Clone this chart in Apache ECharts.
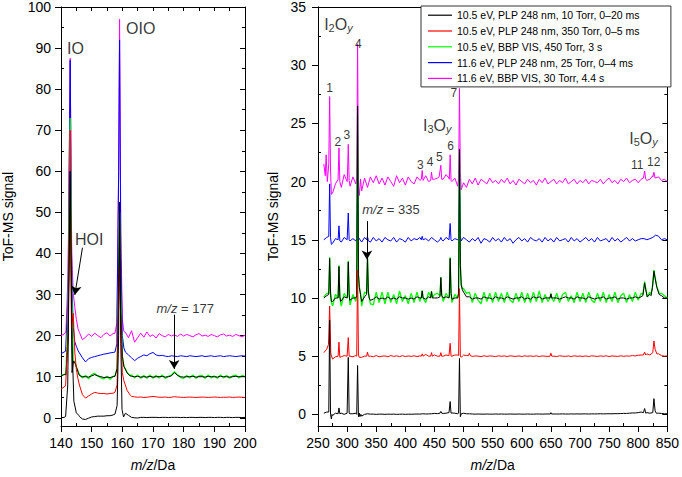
<!DOCTYPE html>
<html><head><meta charset="utf-8">
<script src="https://cdn.jsdelivr.net/npm/echarts@6/dist/echarts.min.js"></script>
<style>html,body{margin:0;padding:0;background:#fff}#c{width:682px;height:477px}</style>
</head><body><div id="c"></div><script>
const FONT = '"Liberation Sans", Arial, Helvetica, sans-serif';
const names = ['10.5 eV, PLP 248 nm, 10 Torr, 0–20 ms', '10.5 eV, PLP 248 nm, 350 Torr, 0–5 ms', '10.5 eV, BBP VIS, 450 Torr, 3 s', '11.6 eV, PLP 248 nm, 25 Torr, 0–4 ms', '11.6 eV, BBP VIS, 30 Torr, 4.4 s'];
const colors = ['#000000', '#ff0000', '#00ff00', '#0000ff', '#ff00ff'];

// tick values
const leftXTicks = [140, 150, 160, 170, 180, 190, 200];
const leftXMinor = [145, 155, 165, 175, 185, 195];
const leftXAll = [140, 145, 150, 155, 160, 165, 170, 175, 180, 185, 190, 195, 200];
const leftYTicks = [0, 10, 20, 30, 40, 50, 60, 70, 80, 90, 100];
const leftYMinor = [5, 15, 25, 35, 45, 55, 65, 75, 85, 95];
const rightXTicks = [250, 300, 350, 400, 450, 500, 550, 600, 650, 700, 750, 800, 850];
const rightXMinor = [275, 325, 375, 425, 475, 525, 575, 625, 675, 725, 775, 825];
const rightYTicks = [0, 5, 10, 15, 20, 25, 30, 35];
const rightYMinor = [2.5, 7.5, 12.5, 17.5, 22.5, 27.5, 32.5];

// ---------- left panel: m/z 140..200, step 1 ----------
const L_x0 = 140, L_step = 1;
const lBlack = [0.0, 0.1, null, null, null, null, 0.3, -0.3, -0.4, -0.1,
  0.2, 0.3, 0.4, 0.4, 0.4, 0.5, 0.5, 0.7, null, null,
  null, 1.1, 0.6, 0.1, 0.0, -0.05, 0.1, 0.1, 0.05, 0.1,
  0.1, 0.1, 0.05, 0.1, 0.1, 0.05, 0.1, 0.1, 0.1, 0.05,
  0.1, 0.05, 0.1, 0.1, 0.05, 0.1, 0.1, 0.05, 0.1, 0.1,
  0.05, 0.1, 0.1, 0.05, 0.1, 0.1, 0.05, 0.1, 0.1, 0.05, 0.1];
const lBlackPeaks = [
  [[141.5, 0.3], [142.2, 8], [143, 60], [143.6, 18], [144.2, 4], [145, 1.2], [145.8, 0.6]],
  [[157.6, 0.9], [158.3, 3], [158.8, 20], [159.1, 52.5], [159.5, 18], [159.9, 2], [160.4, 0.2]]];
const lRed = [7.0, 7.5, null, null, null, null, 8.0, 5.6, 4.8, 5.3,
  5.8, 6.2, 6.0, 5.9, 5.9, 5.8, 5.9, 6.0, null, null,
  null, null, null, 5.2, 5.1, 5.0, 5.05, 4.95, 5.0, 5.1,
  5.2, 5.1, 5.0, 5.0, 5.05, 4.95, 5.0, 5.15, 5.05, 5.0,
  4.95, 5.0, 5.05, 5.0, 4.95, 5.0, 5.05, 5.0, 4.95, 5.0,
  5.05, 5.0, 4.95, 5.0, 5.0, 5.05, 4.95, 5.0, 5.05, 5.0, 4.95];
const lRedPeaks = [
  [[141.5, 7.8], [142.3, 20], [143, 70], [143.4, 22], [144, 25.4], [144.5, 16], [145, 11.8], [145.5, 9.6]],
  [[157.6, 6.2], [158.3, 8], [158.8, 28], [159.1, 37], [159.5, 22], [160, 11], [160.5, 9], [161.6, 6.6], [162.7, 5.4]]];
const lGreen = [10.3, 10.6, null, null, null, null, 10.5, 9.7, 10.3, 9.5,
  10.5, 10.8, 10.2, 9.7, 9.5, 10.1, 9.4, 10.1, null, null,
  null, null, null, 10.4, 9.7, 10.4, 9.6, 10.3, 9.6, 10.4,
  9.6, 10.3, 9.7, 10.4, 9.6, 10.1, 10.4, 11.2, 10.5, 9.8,
  9.6, 10.3, 9.7, 10.4, 9.6, 10.2, 10.3, 9.6, 10.4, 9.7,
  10.2, 9.6, 10.4, 9.7, 10.3, 9.6, 10.2, 10.4, 9.7, 10.3, 10.0];
const lGreenPeaks = [
  [[141.6, 10.6], [142.3, 25], [143, 73], [143.5, 30], [144, 14], [144.5, 13.6], [145, 12.5], [145.6, 11.2]],
  [[157.6, 10.2], [158.3, 12], [158.8, 35], [159.1, 50], [159.5, 28], [160, 15], [160.5, 12.6], [161.6, 11], [162.5, 10.3]]];
const lOverlay = [10.2, 10.5, null, null, null, null, 10.3, 10.0, 10.0, 9.9,
  10.2, 10.5, 10.2, 10.0, 9.8, 9.9, 9.8, 10.0, null, null,
  null, null, null, 10.1, 10.0, 10.1, 9.9, 10.0, 9.9, 10.1,
  9.9, 10.0, 10.0, 10.1, 9.9, 10.0, 10.2, 11.0, 10.3, 10.0,
  9.9, 10.0, 10.0, 10.1, 9.9, 10.0, 10.0, 9.9, 10.1, 10.0,
  10.0, 9.9, 10.1, 10.0, 10.0, 9.9, 10.0, 10.1, 10.0, 10.0, 10.0];
const lOverlayPeaks = [
  [[141.6, 10.5], [142.3, 20], [143, 60], [143.6, 11], [144.1, 13.8], [144.6, 13.3], [145, 12.4], [145.6, 11.1]],
  [[157.6, 10.1], [158.3, 12], [158.8, 33], [159.1, 48], [159.5, 26], [160, 15], [160.5, 12.5], [161.6, 10.9], [162.5, 10.2]]];
const lBlue = [15.6, 16.0, null, null, null, null, 15.8, 14.6, 13.6, 14.4,
  14.7, 14.9, 15.1, 15.3, 15.5, 15.6, 15.8, 15.9, null, null,
  null, 16.0, 15.3, 14.6, 13.9, 14.5, 14.9, 15.3, 15.1, 15.6,
  15.9, 15.3, 15.1, 15.2, 15.0, 14.9, 15.1, 15.0, 14.9, 15.1,
  15.0, 14.9, 15.1, 15.0, 14.9, 15.0, 15.1, 14.9, 15.0, 15.1,
  14.9, 15.0, 15.1, 14.9, 15.0, 15.1, 15.0, 14.9, 15.0, 15.1, 15.0];
const lBluePeaks = [
  [[141.5, 16.2], [142.3, 30], [143, 87], [143.5, 35], [144, 22], [144.5, 18.5], [145, 17.4], [145.6, 16.3]],
  [[157.6, 16], [158.2, 18], [158.8, 60], [159.1, 92], [159.5, 40], [160, 20], [160.5, 17]]];
const lMagenta = [20.0, 20.4, null, null, null, null, 20.8, 19.0, 19.6, 20.4,
  19.8, 20.6, 20.0, 19.5, 20.3, 20.7, 19.9, 20.5, null, null,
  null, 20.8, 19.5, 21.2, 18.4, 19.5, 20.6, 19.6, 20.9, 19.8,
  20.2, 19.4, 20.5, 20.0, 19.7, 20.3, 19.9, 20.2, 19.8, 20.4,
  19.9, 20.3, 20.0, 19.7, 20.2, 20.5, 19.9, 20.1, 19.8, 20.3,
  20.0, 19.7, 20.2, 20.4, 19.9, 20.1, 19.8, 20.3, 20.0, 19.7, 20.1];
const lMagentaPeaks = [
  [[141.6, 20.8], [142.3, 35], [143, 87.5], [143.5, 40], [144, 30.2], [144.5, 27], [145, 24], [145.6, 21.5]],
  [[157.6, 20.6], [158.2, 23], [158.8, 60], [159.1, 97], [159.5, 45], [160, 24], [160.5, 21]]];

// ---------- right panel: m/z 260..850, step 5 ----------
const R_x0 = 260, R_step = 5;
const rBlack = [0.10, 0.20, 0.10, -0.10, 0.10, 0.10, 0.10, 0.00, 0.10, 0.05,
  0.05, 0.10, 0.10, -0.15, 0.00, 0.05, 0.02, 0.02, 0.00, 0.02,
  0.02, 0.00, 0.02, 0.01, 0.02, 0.00, 0.01, 0.02, 0.00, 0.02,
  0.01, 0.02, 0.03, 0.02, 0.05, 0.03, 0.04, 0.05, 0.08, 0.06,
  0.10, 0.08, 0.10, 0.15, 0.12, 0.10, 0.05, 0.00, 0.10, 0.05,
  0.05, 0.03, 0.02, 0.03, 0.02, 0.02, 0.03, 0.02, 0.02, 0.03,
  0.02, 0.03, 0.02, 0.02, 0.03, 0.02, 0.02, 0.03, 0.02, 0.02,
  0.03, 0.02, 0.02, 0.03, 0.03, 0.02, 0.03, 0.03, 0.08, 0.03,
  0.03, 0.03, 0.04, 0.03, 0.03, 0.04, 0.03, 0.04, 0.03, 0.04,
  0.04, 0.03, 0.04, 0.04, 0.04, 0.05, 0.04, 0.05, 0.05, 0.05,
  0.06, 0.06, 0.07, 0.08, 0.08, 0.10, 0.12, 0.12, 0.15, 0.20,
  0.25, 0.15, 0.10, 0.15, 0.25, 0.10, 0.08, 0.05, 0.05];
const rBlackPeaks = [
  [[268.5, 0.2], [270, 8.1], [271.5, 0.0], [273, -0.4], [274, 0.0]],
  [[284.5, 0.05], [286, 0.55], [287.5, 0.05]],
  [[300.5, 0.1], [302, 4.9], [303.5, 0.1]],
  [[316.5, 0.0], [318, 4.2], [319.5, -0.2], [321, 0.1], [322, -0.2], [323.5, 0]],
  [[459.5, 0.1], [461, 0.25], [462.5, 0.1]],
  [[475.5, 0.1], [477, 1.1], [478.5, 0.1]],
  [[491.5, 0.1], [493, 4.8], [494.5, -0.2], [496, 0.05]],
  [[649, 0.03], [650, 0.15], [651, 0.03]],
  [[809, 0.15], [811, 0.5], [813, 0.1]],
  [[825, 0.2], [827, 1.35], [829, 0.3], [831, 0.1]]];
const rRed = [5.30, 5.60, 5.9, 4.75, 4.95, 5.0, 4.95, 5.05, 5.0, 5.0,
  4.95, 5.05, 5.0, 4.9, 5.0, 5.1, 5.0, 4.95, 5.05, 4.95,
  5.0, 5.02, 4.95, 5.05, 4.98, 5.03, 4.96, 5.04, 4.97, 5.02,
  4.98, 5.03, 4.97, 5.02, 5.05, 5.15, 5.0, 5.05, 5.1, 5.0,
  5.05, 5.0, 5.1, 5.05, 5.0, 5.1, 5.1, 4.9, 5.1, 5.05,
  5.05, 4.98, 5.02, 5.0, 4.97, 5.03, 4.98, 5.02, 5.0, 4.97,
  5.03, 4.99, 5.02, 4.97, 5.03, 5.0, 4.98, 5.02, 4.97, 5.03,
  4.99, 5.02, 4.98, 5.03, 4.97, 5.02, 5.0, 4.98, 5.03, 5.0,
  4.97, 5.03, 5.0, 4.98, 5.02, 4.97, 5.03, 4.99, 5.01, 4.98,
  5.02, 4.97, 5.03, 5.0, 4.98, 5.02, 4.99, 5.03, 4.97, 5.02,
  5.0, 4.98, 5.03, 4.99, 5.02, 5.0, 5.05, 5.02, 5.08, 5.1,
  5.15, 5.2, 5.1, 5.3, 5.5, 5.2, 5.05, 5.0, 5.02];
const rRedPeaks = [
  [[268, 6.0], [270, 9.3], [272, 5.2]],
  [[284.5, 5.0], [286, 6.2], [287.5, 4.9]],
  [[300.5, 5.0], [302, 6.6], [303.5, 5.0]],
  [[316.5, 5.0], [318, 12.4], [319.5, 5.1], [321, 4.9]],
  [[333.5, 5.0], [335, 5.35], [336.5, 5.0]],
  [[427.5, 5.0], [429, 5.2], [430.5, 5.0]],
  [[443.5, 5.0], [445, 5.3], [446.5, 5.0]],
  [[459.5, 5.0], [461, 5.3], [462.5, 5.0]],
  [[475.5, 5.0], [477, 6.1], [478.5, 5.0]],
  [[491.5, 5.05], [493, 10.8], [494.5, 5.0], [496, 4.9], [498, 5.0]],
  [[508.5, 5.05], [510, 5.25], [511.5, 5.05]],
  [[648.5, 5.0], [650, 5.25], [651.5, 5.0]],
  [[809, 5.1], [811, 5.35], [813, 5.1]],
  [[825, 5.3], [827, 6.3], [829, 5.6], [832, 5.2]]];
const rGreen = [10.1, 10.4, 12.0, 9.3, 10.3, 10.0, 9.3, 10.4, 10.0, 9.4,
  10.3, 9.7, 10.5, 9.3, 10.5, 10.4, 9.5, 9.4, 10.5, 9.6,
  10.5, 9.5, 10.5, 9.6, 10.3, 9.5, 10.6, 9.7, 10.2, 9.5,
  10.4, 9.6, 10.5, 9.7, 10.4, 9.6, 10.5, 9.7, 10.3, 10.4,
  10.5, 9.7, 10.4, 10.0, 9.6, 10.3, 10.0, 11.1, 10.8, 10.4,
  10.5, 9.6, 10.4, 9.8, 9.5, 10.5, 9.7, 10.4, 9.6, 10.5,
  9.7, 10.4, 9.6, 10.5, 9.8, 9.6, 10.4, 9.7, 10.5, 9.6,
  10.4, 9.6, 10.5, 9.7, 10.6, 9.6, 10.3, 9.7, 10.5, 9.7,
  10.4, 9.6, 10.3, 10.5, 9.7, 10.2, 9.6, 10.5, 9.7, 10.4,
  9.6, 10.5, 9.8, 9.6, 10.4, 9.7, 10.5, 9.6, 10.3, 9.7,
  10.5, 9.6, 10.2, 10.4, 9.6, 10.3, 9.7, 10.5, 9.8, 10.4,
  10.6, 10.3, 10.5, 11.2, 11.6, 10.9, 10.4, 10.2, 10.0];
const rGreenPeaks = [
  [[268.5, 10.4], [270, 13.5], [271.5, 10.5], [273, 9.6]],
  [[284.5, 10.0], [286, 12.8], [287.5, 10.2], [289, 9.5]],
  [[300.5, 10.1], [302, 13.2], [303.5, 10.4], [304.5, 9.6]],
  [[316.5, 10.3], [318, 25.8], [319.5, 12], [321, 11], [323, 10.4]],
  [[333.5, 10.4], [335, 13.5], [336.5, 10.6], [338, 10.0]],
  [[427.5, 10.1], [429, 10.65], [430.5, 10.0]],
  [[443.5, 10.1], [445, 10.6], [446.5, 10.0]],
  [[459.5, 10.2], [461, 11.8], [462.5, 10.3]],
  [[475.5, 10.2], [477, 13.5], [478.5, 10.5]],
  [[491.5, 10.5], [493, 22.5], [494.5, 13], [496, 11.2], [498, 10.8]],
  [[648.5, 10.0], [650, 10.4], [651.5, 10.0]],
  [[808, 10.3], [811, 11.4], [813, 10.8], [815.5, 10.1]],
  [[822, 10.3], [824.5, 11.0], [827, 12.4], [829, 11.8], [832, 11.0], [836, 10.4]]];
const rOverlay = [10.0, 10.2, 12.0, 9.7, 10.0, 10.0, 9.7, 10.1, 10.0, 9.8,
  10.0, 10.0, 10.1, 9.7, 10.1, 10.1, 9.8, 9.9, 10.1, 9.9,
  10.0, 9.9, 10.1, 9.9, 10.0, 9.9, 10.1, 10.0, 10.0, 9.9,
  10.0, 9.9, 10.1, 10.0, 10.0, 9.9, 10.1, 10.0, 10.0, 10.0,
  10.1, 10.0, 10.1, 10.0, 9.9, 10.0, 10.0, 10.9, 10.5, 10.1,
  10.1, 9.9, 10.0, 10.0, 9.9, 10.1, 10.0, 10.0, 9.9, 10.1,
  10.0, 10.0, 9.9, 10.1, 10.0, 9.9, 10.0, 10.0, 10.1, 9.9,
  10.0, 9.9, 10.1, 10.0, 10.1, 9.9, 10.0, 10.0, 10.1, 10.0,
  10.0, 9.9, 10.0, 10.1, 10.0, 10.0, 9.9, 10.1, 10.0, 10.0,
  9.9, 10.1, 10.0, 9.9, 10.0, 10.0, 10.1, 9.9, 10.0, 10.0,
  10.1, 9.9, 10.0, 10.0, 9.9, 10.0, 10.0, 10.1, 10.0, 10.1,
  10.5, 10.1, 10.3, 11.1, 11.5, 10.8, 10.2, 10.0, 10.0];
const rOverlayPeaks = [
  [[268.5, 10.3], [270, 13.4], [271.5, 10.4], [273, 9.7]],
  [[284.5, 10.0], [286, 12.7], [287.5, 10.1], [289, 9.7]],
  [[300.5, 10.1], [302, 13.1], [303.5, 10.3], [304.5, 9.8]],
  [[316.5, 10.2], [318, 26.5], [319.5, 12], [321, 10.9], [323, 10.3]],
  [[333.5, 10.3], [335, 13.6], [336.5, 10.5], [338, 10.0]],
  [[427.5, 10.0], [429, 10.6], [430.5, 10.0]],
  [[443.5, 10.0], [445, 10.55], [446.5, 10.0]],
  [[459.5, 10.1], [461, 11.75], [462.5, 10.2]],
  [[475.5, 10.1], [477, 13.4], [478.5, 10.4]],
  [[491.5, 10.4], [493, 22.8], [494.5, 12.8], [496, 11.1], [498, 10.7]],
  [[648.5, 10.0], [650, 10.35], [651.5, 10.0]],
  [[808, 10.2], [811, 11.3], [813, 10.7], [815.5, 10.1]],
  [[822, 10.2], [824.5, 10.9], [827, 12.3], [829, 11.7], [832, 10.9], [836, 10.3]]];
const rBlue = [15.0, 15.2, 16, 14.7, 15.1, 15.0, 14.8, 15.2, 15.0, 14.9,
  15.1, 14.9, 15.2, 14.8, 15.2, 15.0, 14.8, 15.2, 14.9, 15.1,
  14.8, 15.2, 15.0, 14.9, 15.2, 14.8, 15.1, 15.0, 14.8, 15.2,
  14.9, 15.1, 15.0, 15.2, 14.8, 15.1, 14.9, 15.2, 15.0, 14.8,
  15.1, 14.9, 15.2, 15.0, 14.9, 15.1, 15.0, 14.8, 15.2, 15.0,
  14.8, 15.1, 14.9, 15.2, 14.7, 15.1, 15.0, 14.8, 15.2, 14.9,
  15.1, 14.8, 15.2, 14.9, 15.1, 14.7, 15.0, 15.2, 14.9, 15.1,
  14.8, 15.2, 15.0, 14.9, 15.1, 14.8, 15.2, 14.9, 15.1, 14.8,
  15.2, 14.9, 15.0, 15.1, 14.8, 15.2, 14.9, 15.1, 14.8, 15.0,
  15.2, 14.9, 15.1, 14.8, 15.2, 14.9, 15.0, 15.1, 14.8, 15.2,
  14.9, 15.1, 14.8, 15.0, 15.2, 14.9, 15.1, 14.9, 15.0, 15.1,
  15.1, 15.0, 15.1, 15.2, 15.4, 15.3, 15.0, 15.1, 15.0];
const rBluePeaks = [
  [[268.5, 15.3], [270, 19.8], [271.5, 15.2], [273, 14.6]],
  [[284.5, 15.0], [286, 16.2], [287.5, 14.9]],
  [[300.5, 15.0], [302, 17.3], [303.5, 15.0]],
  [[316.5, 15.1], [318, 21], [319.5, 15.2]],
  [[333.5, 15.0], [335, 15.3], [336.5, 14.9]],
  [[427.5, 15.0], [429, 15.3], [430.5, 15.0]],
  [[459.5, 15.0], [461, 15.2], [462.5, 15.0]],
  [[475.5, 15.0], [477, 16.4], [478.5, 15.0]],
  [[491.5, 15.1], [493, 21], [494.5, 15.3], [496, 14.9]]];
const rMagenta = [21.5, 19.4, 22, 19.0, 19.8, 20.5, 19.5, 20.6, 20.0, 19.6,
  20.4, 19.8, 20.6, 19.2, 20.3, 19.5, 20.4, 19.9, 20.5, 19.8,
  20.3, 19.7, 20.4, 20.0, 19.6, 20.5, 19.9, 20.3, 19.7, 20.4,
  20.0, 19.8, 20.4, 20.1, 19.9, 20.5, 20.0, 20.4, 20.2, 20.3,
  20.5, 20.2, 20.6, 20.3, 20.0, 20.3, 19.6, 19.2, 19.9, 19.5,
  20.2, 19.8, 20.3, 19.7, 20.2, 20.0, 19.8, 20.3, 19.9, 20.1,
  19.8, 20.2, 19.9, 20.3, 19.8, 20.1, 19.7, 20.2, 20.0, 19.8,
  20.2, 19.9, 20.1, 19.7, 20.2, 19.9, 20.3, 19.8, 20.0, 20.2,
  19.8, 20.1, 19.9, 20.3, 19.8, 20.0, 20.2, 19.8, 20.1, 19.9,
  20.2, 19.8, 20.1, 20.0, 19.9, 20.2, 19.8, 20.1, 20.3, 19.9,
  20.1, 19.8, 20.2, 20.0, 20.3, 19.9, 20.1, 20.2, 19.9, 20.2,
  20.3, 20.1, 20.2, 20.5, 20.3, 20.4, 20.1, 20.2, 20.0];
const rMagentaPeaks = [
  [[262.5, 20.5], [264, 22.3], [266, 20.0], [268.5, 21.5], [270, 27.3], [271.5, 21.0], [273, 18.9]],
  [[284.5, 20.2], [286, 22.9], [287.5, 20.0]],
  [[300.5, 20.3], [302, 23.2], [303.5, 20.1]],
  [[316.5, 20.3], [318, 31.8], [319.5, 19.5], [321, 18.8], [323, 20.2]],
  [[427.5, 20.2], [429, 20.95], [430.5, 20.1]],
  [[443.5, 20.1], [445, 20.8], [446.5, 20.2]],
  [[458, 20.4], [461, 21.4], [462.5, 20.2]],
  [[475.5, 20.2], [477, 22.3], [478.5, 20.1]],
  [[491.5, 20.3], [493, 28.0], [494.5, 20.8], [496, 19.3]],
  [[809, 20.3], [811, 20.9], [813, 20.2]],
  [[825, 20.4], [827, 20.8], [829, 20.3]]];

// annotations: [text, m/z, signal, style]
const annotL = [
  ['IO', 144.7, 90.0, 'big'],
  ['OIO', 166, 94.7, 'big'],
  ['HOI', 149.2, 43.3, 'big'],
  ['{i|m/z} = 177', 180.5, 26.5, 'mz']];
const arrowsL = [[[147, 41.4], [144.5, 29.9]], [[176.9, 25.1], [176.9, 11.9]]];
const annotR = [
  ['{b|I}{s|2}{b|O}{y|y}', 285, 33.5, 'big'],
  ['1', 269.9, 28.0, 'num'], ['2', 284.1, 23.4, 'num'], ['3', 299.4, 24.0, 'num'], ['4', 319.3, 31.85, 'num'],
  ['{b|I}{s|3}{b|O}{y|y}', 454.8, 24.8, 'big'],
  ['3', 425.6, 21.4, 'num'], ['4', 442.6, 21.7, 'num'], ['5', 458.5, 22.1, 'num'], ['6', 477.8, 23.1, 'num'], ['7', 483.5, 27.6, 'num'],
  ['{b|I}{s|5}{b|O}{y|y}', 809, 23.7, 'big'],
  ['11', 798.2, 21.4, 'num'], ['12', 826.5, 21.7, 'num'],
  ['{i|m/z} = 335', 375.3, 17.6, 'mz']];
const arrowsR = [[[334, 16.6], [334, 13.3]]];

function build(x0, step, vals, groups) {
  const pts = [];
  vals.forEach((v, i) => { if (v !== null) pts.push([x0 + i * step, v]); });
  const keep = pts.filter(p => !groups.some(g => p[0] > g[0][0] && p[0] < g[g.length - 1][0]));
  const all = keep.concat(...groups);
  all.sort((a, b) => a[0] - b[0]);
  return all;
}

const fontSizes = { big: 16, num: 12, mz: 13 };
const rich = {
  b: { fontSize: 16, lineHeight: 18, fontFamily: FONT, color: '#000' },
  s: { fontSize: 11, lineHeight: 6, verticalAlign: 'bottom', fontFamily: FONT, color: '#000' },
  y: { fontSize: 11, lineHeight: 6, verticalAlign: 'bottom', fontStyle: 'italic', fontFamily: FONT, color: '#000' },
  i: { fontSize: 13, fontStyle: 'italic', fontFamily: FONT, color: '#000' }
};

function lineSeries(name, data, color, g, w) {
  return { type: 'line', name, data, xAxisIndex: g === 0 ? 0 : 3, yAxisIndex: g === 0 ? 0 : 3,
    symbol: 'none', showSymbol: false, color, lineStyle: { width: w, color }, itemStyle: { color },
    emphasis: { disabled: true }, silent: true, animation: false, clip: true };
}
function annotSeries(list, arrows, g) {
  return { type: 'scatter', name: 'annot' + g, xAxisIndex: g === 0 ? 0 : 3, yAxisIndex: g === 0 ? 0 : 3,
    symbolSize: 0, silent: true, animation: false, z: 5,
    data: list.map(a => ({ value: [a[1], a[2]], label: { show: true, position: 'inside', formatter: a[0],
      fontSize: fontSizes[a[3]], fontFamily: FONT, color: '#000', rich } })),
    markLine: { silent: true, animation: false, symbol: ['none', 'arrow'], symbolSize: [8, 9], label: { show: false },
      lineStyle: { color: '#000', width: 1, type: 'solid', opacity: 1 }, emphasis: { disabled: true },
      data: arrows.map(a => [{ coord: a[0] }, { coord: a[1] }]) } };
}

const series = [];
[[0, L_x0, L_step, [lMagenta, lMagentaPeaks, 4], [lBlue, lBluePeaks, 3], [lGreen, lGreenPeaks, 2], [lOverlay, lOverlayPeaks, -1], [lRed, lRedPeaks, 1], [lBlack, lBlackPeaks, 0]],
 [1, R_x0, R_step, [rMagenta, rMagentaPeaks, 4], [rBlue, rBluePeaks, 3], [rGreen, rGreenPeaks, 2], [rOverlay, rOverlayPeaks, -1], [rRed, rRedPeaks, 1], [rBlack, rBlackPeaks, 0]]
].forEach(p => {
  const g = p[0];
  p.slice(3).forEach(s => {
    const idx = s[2];
    series.push(lineSeries(idx < 0 ? 'overlay' + g : names[idx], build(p[1], p[2], s[0], s[1]),
      idx < 0 ? '#000000' : colors[idx], g, idx === 2 ? 1.3 : 1));
  });
});
series.push(annotSeries(annotL, arrowsL, 0));
series.push(annotSeries(annotR, arrowsR, 1));

const AX = { color: '#000', width: 1 };
function axis(o) {
  return Object.assign({ type: 'value', axisLine: { show: false, onZero: false, lineStyle: AX },
    axisTick: { show: false }, axisLabel: { show: false }, splitLine: { show: false }, minorTick: { show: false } }, o);
}
const tickLabel = { fontSize: 14, fontFamily: FONT, color: '#000' };
const nameStyle = { fontSize: 14, fontFamily: FONT, color: '#000', rich: { i: { fontSize: 14, fontStyle: 'italic', fontFamily: FONT, color: '#000' } } };

const xAxis = [
  axis({ gridIndex: 0, position: 'bottom', min: 140, max: 200, interval: 10, axisLine: { show: true, onZero: false, lineStyle: AX },
    axisTick: { show: true, inside: false, length: 6, customValues: leftXTicks, lineStyle: AX },
    axisLabel: { show: true, margin: 10, customValues: leftXTicks, ...tickLabel },
    name: '{i|m/z}/Da', nameLocation: 'middle', nameGap: 32, nameTextStyle: nameStyle }),
  axis({ gridIndex: 0, position: 'bottom', min: 140, max: 200, axisTick: { show: true, inside: true, length: 3, customValues: leftXMinor, lineStyle: AX } }),
  axis({ gridIndex: 0, position: 'top', min: 140, max: 200, axisLine: { show: true, onZero: false, lineStyle: AX },
    axisTick: { show: true, inside: true, length: 4, customValues: leftXAll, lineStyle: AX } }),
  axis({ gridIndex: 1, position: 'bottom', min: 250, max: 850, interval: 50, axisLine: { show: true, onZero: false, lineStyle: AX },
    axisTick: { show: true, inside: false, length: 6, customValues: rightXTicks, lineStyle: AX },
    axisLabel: { show: true, margin: 10, customValues: rightXTicks, ...tickLabel },
    name: '{i|m/z}/Da', nameLocation: 'middle', nameGap: 32, nameTextStyle: nameStyle }),
  axis({ gridIndex: 1, position: 'bottom', min: 250, max: 850, axisTick: { show: true, inside: true, length: 3, customValues: rightXMinor, lineStyle: AX } }),
  axis({ gridIndex: 1, position: 'top', min: 250, max: 850, axisLine: { show: true, onZero: false, lineStyle: AX } })
];
const yAxis = [
  axis({ gridIndex: 0, position: 'left', min: -2, max: 100, axisLine: { show: true, onZero: false, lineStyle: AX },
    axisTick: { show: true, inside: false, length: 6, customValues: leftYTicks, lineStyle: AX },
    axisLabel: { show: true, margin: 10, customValues: leftYTicks, ...tickLabel },
    name: 'ToF-MS signal', nameLocation: 'middle', nameGap: 46, nameTextStyle: nameStyle }),
  axis({ gridIndex: 0, position: 'left', min: -2, max: 100, axisTick: { show: true, inside: true, length: 3, customValues: leftYMinor, lineStyle: AX } }),
  axis({ gridIndex: 0, position: 'right', min: -2, max: 100, axisLine: { show: true, onZero: false, lineStyle: AX },
    axisTick: { show: true, inside: true, length: 5, customValues: leftYTicks, lineStyle: AX } }),
  axis({ gridIndex: 1, position: 'left', min: -1, max: 35, axisLine: { show: true, onZero: false, lineStyle: AX },
    axisTick: { show: true, inside: false, length: 6, customValues: rightYTicks, lineStyle: AX },
    axisLabel: { show: true, margin: 12, customValues: rightYTicks, ...tickLabel },
    name: 'ToF-MS signal', nameLocation: 'middle', nameGap: 38, nameTextStyle: nameStyle }),
  axis({ gridIndex: 1, position: 'left', min: -1, max: 35, axisTick: { show: true, inside: true, length: 3, customValues: rightYMinor, lineStyle: AX } }),
  axis({ gridIndex: 1, position: 'right', min: -1, max: 35, axisLine: { show: true, onZero: false, lineStyle: AX },
    axisTick: { show: true, inside: true, length: 5, customValues: rightYTicks, lineStyle: AX } }),
  axis({ gridIndex: 0, position: 'right', min: -2, max: 100, axisTick: { show: true, inside: true, length: 3, customValues: leftYMinor, lineStyle: AX } }),
  axis({ gridIndex: 1, position: 'right', min: -1, max: 35, axisTick: { show: true, inside: true, length: 3, customValues: rightYMinor, lineStyle: AX } })
];

const chart = echarts.init(document.getElementById('c'), null, { renderer: 'svg', width: 682, height: 477 });
chart.setOption({
  animation: false,
  backgroundColor: '#fff',
  textStyle: { fontFamily: FONT },
  grid: [
    { left: 60, right: 437, top: 6, bottom: 46, containLabel: false },
    { left: 318, right: 12, top: 6, bottom: 46, containLabel: false }
  ],
  legend: { data: names, orient: 'vertical', left: 421, top: 6, padding: [3.7, 31, 3, 7], itemGap: 4.8,
    icon: 'rect', itemWidth: 24, itemHeight: 1.2, selectedMode: false, backgroundColor: '#fff', borderColor: '#333', borderWidth: 1,
    textStyle: { fontSize: 10.5, fontFamily: FONT, color: '#000' }, z: 10 },
  xAxis, yAxis, series
});
</script></body></html>
